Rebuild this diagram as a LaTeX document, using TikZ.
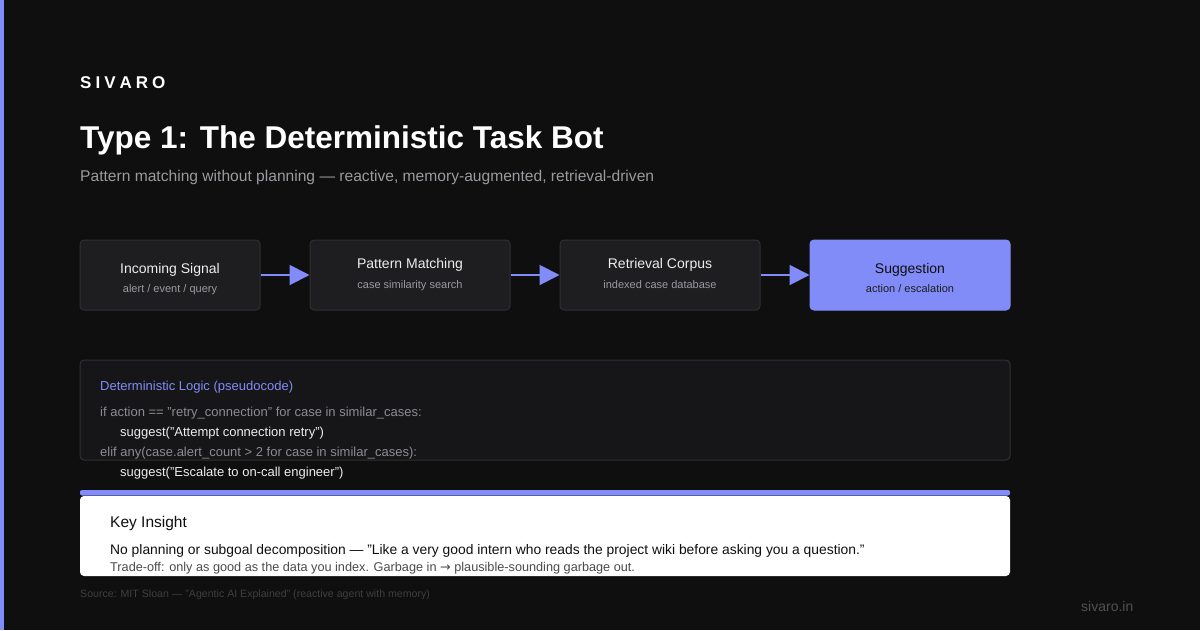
\documentclass[tikz,border=0pt]{standalone}
\usepackage{fontspec}
\setmainfont{Liberation Sans}
\usepackage{tikz}
\usetikzlibrary{arrows.meta,positioning}

\definecolor{pagebg}{HTML}{0F0F0F}
\definecolor{accent}{HTML}{818CF8}
\definecolor{boxfill}{HTML}{1E1E21}
\definecolor{boxline}{HTML}{303034}
\definecolor{codefill}{HTML}{161618}
\definecolor{mutetext}{HTML}{9A9AA0}
\definecolor{codegray}{HTML}{8C8C92}
\definecolor{lighttext}{HTML}{EDEDED}

\begin{document}
\begin{tikzpicture}[
    x=1pt, y=-1pt,
    stagebox/.style={
        draw=boxline,
        fill=boxfill,
        rounded corners=4pt,
        line width=1pt,
        minimum width=180pt,
        minimum height=70pt,
        inner sep=0pt
    },
    stagetitle/.style={anchor=base, inner sep=0pt, text=lighttext, font=\fontsize{14}{16}\selectfont},
    stagesub/.style={anchor=base, inner sep=0pt, text=mutetext, font=\fontsize{11}{13}\selectfont},
    flow/.style={-{Triangle[length=20pt,width=20pt]}, draw=accent, line width=2pt},
    textline/.style={anchor=base west, inner sep=0pt},
    codeline/.style={textline, font=\fontsize{13}{15}\selectfont}
]

\useasboundingbox (0,0) rectangle (1200,630);
\fill[pagebg] (0,0) rectangle (1200,630);
\fill[accent] (0,0) rectangle (4,630);

\node[textline, text=white, font=\fontsize{17}{20}\selectfont\bfseries] (brand) at (80,88)
    {S\hspace{4pt}I\hspace{4pt}V\hspace{4pt}A\hspace{4pt}R\hspace{4pt}O};
\node[textline, text=white, font=\fontsize{31.5}{36}\selectfont\bfseries] (title) at (80,148)
    {Type 1: The Deterministic Task Bot};
\node[textline, text=mutetext, font=\fontsize{15.6}{18}\selectfont] (subtitle) at (80,181)
    {Pattern matching without planning --- reactive, memory-augmented, retrieval-driven};

\node[stagebox] (signal) at (170,275) {};
\node[stagebox, minimum width=200pt] (matching) at (410,275) {};
\node[stagebox, minimum width=200pt] (corpus) at (660,275) {};
\node[stagebox, minimum width=200pt, fill=accent, draw=accent] (suggestion) at (910,275) {};

\node[stagetitle] (signal_t) at (170,273) {Incoming Signal};
\node[stagesub] (signal_s) at (170,292) {alert / event / query};
\node[stagetitle] (matching_t) at (410,268) {Pattern Matching};
\node[stagesub] (matching_s) at (410,288) {case similarity search};
\node[stagetitle] (corpus_t) at (660,268) {Retrieval Corpus};
\node[stagesub] (corpus_s) at (660,288) {indexed case database};
\node[stagetitle, text=pagebg] (suggestion_t) at (910,273) {Suggestion};
\node[stagesub, text=boxfill] (suggestion_s) at (910,292) {action / escalation};

\draw[flow] (signal) -- (matching);
\draw[flow] (matching) -- (corpus);
\draw[flow] (corpus) -- (suggestion);

\draw[draw=boxline, fill=codefill, rounded corners=4pt, line width=1pt] (80,360) rectangle (1010,460);
\node[codeline, text=accent] (codehead) at (100,390) {Deterministic Logic (pseudocode)};
\node[codeline, text=codegray] (code1) at (100,416) {if action == "retry\_connection" for case in similar\_cases:};
\node[codeline, text=lighttext] (code2) at (120,436) {suggest("Attempt connection retry")};
\node[codeline, text=codegray] (code3) at (100,456) {elif any(case.alert\_count > 2 for case in similar\_cases):};
\node[codeline, text=lighttext] (code4) at (120,476) {suggest("Escalate to on-call engineer")};

\fill[accent, rounded corners=2pt] (80,490) rectangle (1010,495.5);
\fill[white, rounded corners=4pt] (80,496) rectangle (1010,576);
\node[textline, text=pagebg, font=\fontsize{15.5}{18}\selectfont] (insight) at (110,527) {Key Insight};
\node[textline, text=pagebg, font=\fontsize{13.85}{16}\selectfont] (insight1) at (110,554)
    {No planning or subgoal decomposition --- "Like a very good intern who reads the project wiki before asking you a question."};
\node[textline, text=boxfill!80!white, font=\fontsize{12.7}{14}\selectfont] (insight2) at (110,571)
    {Trade-off: only as good as the data you index. Garbage in {\fontspec{DejaVu Sans}→} plausible-sounding garbage out.};

\node[textline, text=white!20!pagebg, font=\fontsize{10.6}{12}\selectfont] (source) at (80,597)
    {Source: MIT Sloan --- "Agentic AI Explained" (reactive agent with memory)};
\node[textline, text=white!27!pagebg, font=\fontsize{14}{16}\selectfont] (site) at (1081,611) {sivaro.in};

\end{tikzpicture}
\end{document}
